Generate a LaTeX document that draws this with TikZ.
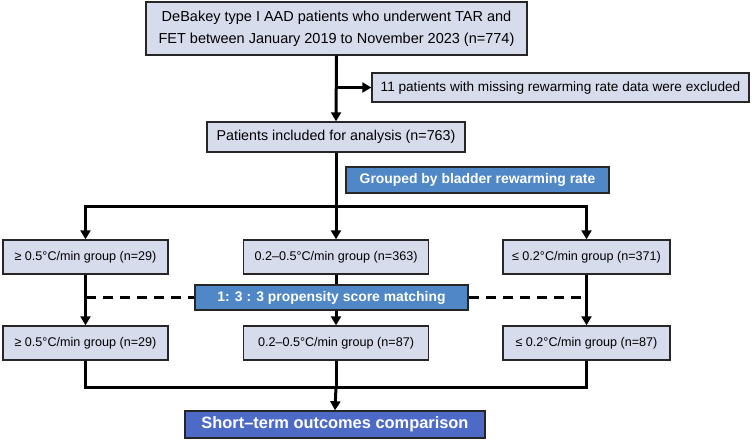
\documentclass[tikz,border=0pt]{standalone}
\usepackage{fontspec}
\setmainfont{Liberation Sans}
\usetikzlibrary{arrows.meta}
\definecolor{boxgray}{HTML}{D6DCEC}
\definecolor{grpblue}{HTML}{4F87C7}
\definecolor{outblue}{HTML}{4D6BC6}
\begin{document}
\begin{tikzpicture}[x=1pt,y=-1pt,
    box/.style={draw=black!85,line width=1.4pt,fill=boxgray,inner sep=0pt,font=\fontsize{12.6}{15}\selectfont},
    tag/.style={draw=black!85,line width=1.4pt,fill=grpblue,text=white,inner sep=0pt,font=\bfseries\fontsize{13.9}{16}\selectfont},
    flow/.style={line width=3pt,-{Triangle[length=9pt,width=10pt]}},
    link/.style={line width=3pt},
    gap/.style={line width=2.2pt,dash pattern=on 10pt off 7pt}]
    \useasboundingbox (0,0) rectangle (752,441);
    % boxes
    \node[box,minimum width=381pt,minimum height=53pt,align=center,font=\fontsize{14.5}{22}\selectfont] (top) at (336.5,28.5)
        {DeBakey type I AAD patients who underwent TAR and\\FET between January 2019 to November 2023 (n=774)};
    \node[box,minimum width=377pt,minimum height=29pt,font=\fontsize{13.6}{15}\selectfont] (excl) at (560.5,87.5)
        {11 patients with missing rewarming rate data were excluded};
    \node[box,minimum width=258pt,minimum height=30pt,font=\fontsize{14.3}{16}\selectfont] (incl) at (336,137)
        {Patients included for analysis (n=763)};
    \node[tag,minimum width=263pt,minimum height=26pt] (grp) at (477.5,180) {Grouped by bladder rewarming rate};
    \foreach \row/\y/\nmid/\nhi in {1/257/363/371,2/343/87/87}{
        \node[box,minimum width=165pt,minimum height=34pt] (lo\row) at (85.5,\y) {≥ 0.5°C/min group (n=29)};
        \node[box,minimum width=185pt,minimum height=34pt] (mid\row) at (336,\y) {0.2–0.5°C/min group (n=\nmid)};
        \node[box,minimum width=167pt,minimum height=34pt] (hi\row) at (586.5,\y) {≤ 0.2°C/min group (n=\nhi)};
    }
    \node[tag,minimum width=273pt,minimum height=25pt] (match) at (331.5,297.5) {1: 3 : 3 propensity score matching};
    \node[tag,fill=outblue,minimum width=300pt,minimum height=27pt,font=\bfseries\fontsize{16.4}{19}\selectfont] (out) at (335,424.5)
        {Short–term outcomes comparison};
    % connectors
    \coordinate (split) at (336,206);
    \coordinate (merge) at (336,387);
    \draw[flow] (top.south) -- (incl.north);
    \draw[flow] (top.south |- excl.west) -- (excl.west);
    \draw[flow] (incl.south) -- (mid1.north);
    \draw[flow] (split) -| (lo1.north);
    \draw[flow] (split) -| (hi1.north);
    \draw[flow] (lo1.south) -- (lo2.north);
    \draw[flow] (hi1.south) -- (hi2.north);
    \draw[link] (mid1.south) -- (mid1.south |- match.north);
    \draw[flow] (mid2.north |- match.south) -- (mid2.north);
    \draw[gap] (lo1.south |- match.west) -- (match.west);
    \draw[gap] (match.east) -- (hi1.south |- match.east);
    \draw[link] (lo2.south) |- (merge) -| (hi2.south);
    \draw[link] (mid2.south) -- (merge);
    \draw[flow] (merge) -- (out.north);
\end{tikzpicture}
\end{document}
